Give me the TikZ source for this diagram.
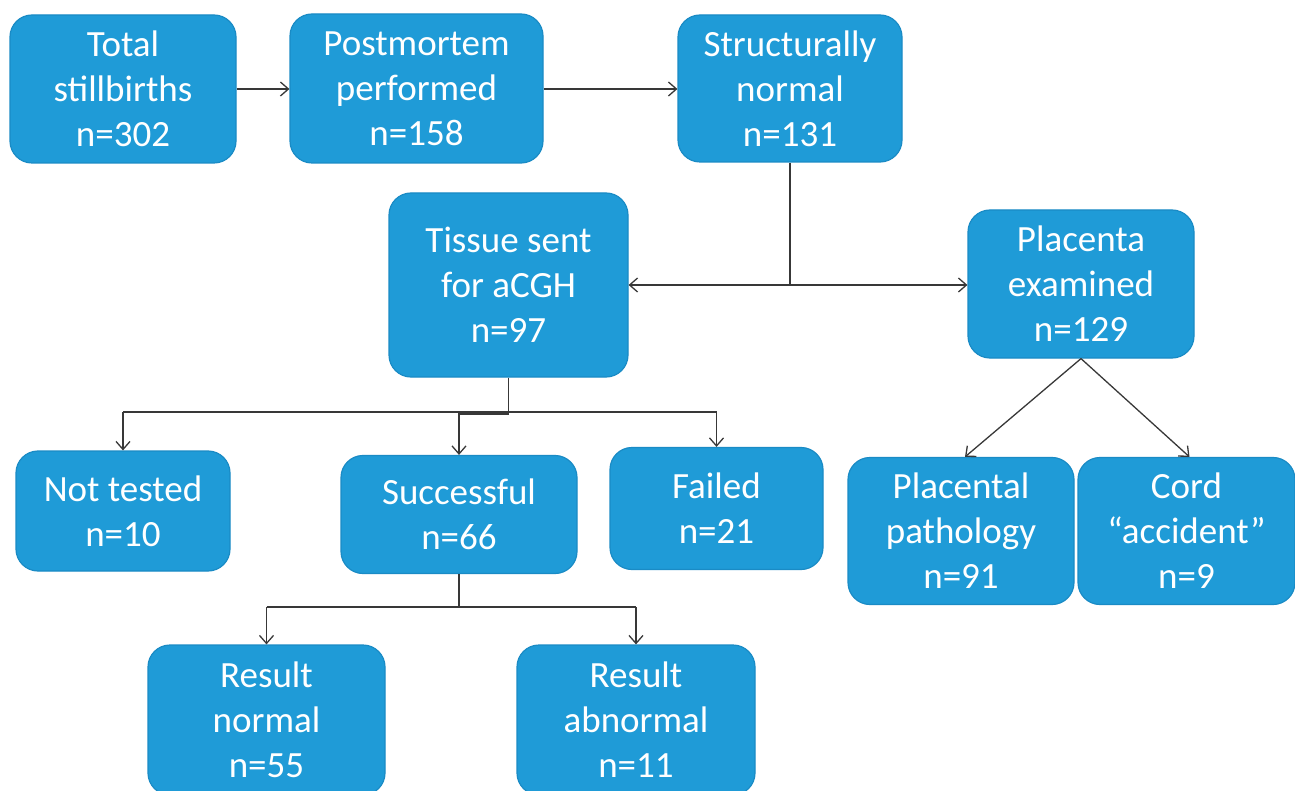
\documentclass[tikz,border=0pt]{standalone}
\usepackage{fontspec}
\setmainfont{Carlito}
\usetikzlibrary{arrows.meta}
\definecolor{boxblue}{HTML}{1F9BD7}
\definecolor{boxedge}{HTML}{1A8BC5}
\definecolor{linegray}{HTML}{383838}
\begin{document}
\begin{tikzpicture}[x=1pt,y=-1pt,
  box/.style={draw=boxedge, line width=1.2pt, fill=boxblue, rounded corners=22pt,
    text=white, align=center, inner sep=0pt, font=\fontsize{37}{45}\selectfont},
  sz/.style 2 args={minimum width=#1pt, minimum height=#2pt},
  conn/.style={draw=linegray, line width=1.3pt},
  arr/.style={conn, -{Straight Barb[length=8pt,width=14pt]}}]
\clip (0,0) rectangle (1295,791);
\useasboundingbox (0,0) rectangle (1295,791);

\node[box, sz={226}{148}] (total)  at (123,89)    {Total\\stillbirths\\n=302};
\node[box, sz={253}{149}] (post)   at (416.5,88.5) {Postmortem\\performed\\n=158};
\node[box, sz={224}{147}] (struct) at (790,88.5)  {Structurally\\normal\\n=131};
\node[box, sz={239}{184}] (tissue) at (508.5,285) {Tissue sent\\for aCGH\\n=97};
\node[box, sz={226}{148}] (plac)   at (1081,284)  {Placenta\\examined\\n=129};
\node[box, sz={214}{120}] (nt)     at (123,511)   {Not tested\\n=10};
\node[box, sz={236}{118}] (succ)   at (459,514.5) {Successful\\n=66};
\node[box, sz={213}{122}] (failed) at (716.5,508.5) {Failed\\n=21};
\node[box, sz={226}{147}] (pp)     at (961,531)   {Placental\\pathology\\n=91};
\node[box, sz={217}{147}] (cord)   at (1186.5,531) {Cord\\“accident”\\n=9};
\node[box, sz={237}{150}] (rn)     at (266.5,720) {Result\\normal\\n=55};
\node[box, sz={238}{150}] (ra)     at (636,720)   {Result\\abnormal\\n=11};

% top row
\draw[arr] (total.east) -- (post.west |- total.east);
\draw[arr] (post.east |- total.east) -- (struct.west |- total.east);

% structurally normal split
\coordinate (j1) at (790,285);
\draw[conn] (struct.south) -- (j1);
\draw[arr] (j1) -- (tissue.east |- j1);
\draw[arr] (j1) -- (plac.west |- j1);

% tissue split
\coordinate (bus) at (509,412);
\draw[arr] (tissue.south) |- (459,414) -- (succ.north);
\draw[conn] (bus -| nt.north) -- (bus -| failed.north);
\draw[arr] (bus -| nt.north) -- (nt.north);
\draw[arr] (bus -| failed.north) -- (failed.north);

% placenta split
\draw[arr] (plac.south) -- ([xshift=4pt]pp.north);
\draw[arr] (plac.south) -- ([xshift=3pt]cord.north);

% successful split
\coordinate (bus2) at (459,607);
\draw[conn] (succ.south) -- (bus2);
\draw[conn] (bus2 -| rn.north) -- (bus2 -| ra.north);
\draw[arr] (bus2 -| rn.north) -- (rn.north);
\draw[arr] (bus2 -| ra.north) -- (ra.north);
\end{tikzpicture}
\end{document}
